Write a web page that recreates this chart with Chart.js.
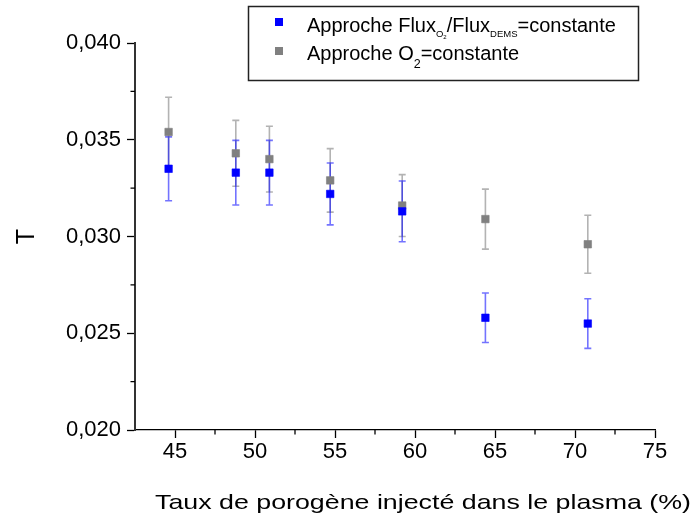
<!DOCTYPE html>
<html>
<head>
<meta charset="utf-8">
<script src="https://cdn.jsdelivr.net/npm/chart.js@4/dist/chart.umd.min.js"></script>
<style>
  html, body { margin: 0; padding: 0; background: #fff; }
  canvas { display: block; }
</style>
</head>
<body>
<canvas id="c" width="691" height="520"></canvas>
<script>
// ---- data ----
const xValues      = [44.6, 48.8, 50.9, 54.7, 59.2, 64.4, 70.8];
const fluxRatioT   = [0.0335, 0.0333, 0.0333, 0.0322, 0.0313, 0.0258, 0.0255];
const fluxRatioErr = [0.00165, 0.00167, 0.00167, 0.0016, 0.00157, 0.00128, 0.00128];
const o2ConstT     = [0.0354, 0.0343, 0.0340, 0.0329, 0.0316, 0.0309, 0.0296];
const o2ConstErr   = [0.0018, 0.0017, 0.0017, 0.00164, 0.0016, 0.00155, 0.0015];

const xTicks      = [45, 50, 55, 60, 65, 70, 75];
const xMinorTicks = [47.5, 52.5, 57.5, 62.5, 67.5, 72.5];
const yTicks      = [0.020, 0.025, 0.030, 0.035, 0.040];
const yMinorTicks = [0.0225, 0.0275, 0.0325, 0.0375];

const xTitle = 'Taux de porogène injecté dans le plasma (%)';
const yTitle = 'T';
// legend labels as rich-text parts: [text, kind] kind: n = normal, s = subscript, ss = sub-subscript
const legendFluxRatio = [['Approche Flux', 'n'], ['O', 's'], ['2', 'ss'], ['/Flux', 'n'], ['DEMS', 's'], ['=constante', 'n']];
const legendO2Const   = [['Approche O', 'n'], ['2', 's2'], ['=constante', 'n']];

const FONT = '"Liberation Sans", Arial, Helvetica, sans-serif';

const errorBarPlugin = {
  id: 'errorBars',
  beforeDatasetsDraw(chart) {
    const ctx = chart.ctx, xs = chart.scales.x, ys = chart.scales.y;
    for (let d = chart.data.datasets.length - 1; d >= 0; d--) {
      const ds = chart.data.datasets[d];
      ctx.save();
      ctx.strokeStyle = ds.errColor;
      ctx.lineWidth = 1.6;
      ds.data.forEach((p, i) => {
        const x = xs.getPixelForValue(p.x);
        const yTop = ys.getPixelForValue(p.y + ds.err[i]);
        const yBot = ys.getPixelForValue(p.y - ds.err[i]);
        ctx.beginPath();
        ctx.moveTo(x, yTop); ctx.lineTo(x, yBot);
        ctx.moveTo(x - 3.5, yTop); ctx.lineTo(x + 3.5, yTop);
        ctx.moveTo(x - 3.5, yBot); ctx.lineTo(x + 3.5, yBot);
        ctx.stroke();
      });
      ctx.restore();
    }
  }
};

const minorTickPlugin = {
  id: 'minorTicks',
  afterDraw(chart) {
    const ctx = chart.ctx, xs = chart.scales.x, ys = chart.scales.y;
    const ca = chart.chartArea;
    ctx.save();
    ctx.strokeStyle = '#000';
    ctx.lineWidth = 1.3;
    ctx.beginPath();
    xMinorTicks.forEach(v => {
      const x = xs.getPixelForValue(v);
      ctx.moveTo(x, ca.bottom); ctx.lineTo(x, ca.bottom + 4.5);
    });
    yMinorTicks.forEach(v => {
      const y = ys.getPixelForValue(v);
      ctx.moveTo(ca.left, y); ctx.lineTo(ca.left - 4.5, y);
    });
    ctx.stroke();
    ctx.restore();
  }
};

function drawRich(ctx, parts, x, y) {
  const sizes = { n: 20, s: 9.5, ss: 6, s2: 12.5 };
  const dys = { n: 0, s: 5.5, ss: 7.5, s2: 8.5 };
  parts.forEach(([t, k]) => {
    ctx.font = sizes[k] + 'px ' + FONT;
    ctx.fillText(t, x, y + dys[k]);
    x += ctx.measureText(t).width;
  });
}

const legendTitlePlugin = {
  id: 'legendTitles',
  afterDraw(chart) {
    const ctx = chart.ctx;
    ctx.save();
    // legend box
    ctx.strokeStyle = '#222';
    ctx.lineWidth = 1.5;
    ctx.strokeRect(248.5, 6.5, 390, 74);
    const ds = chart.data.datasets;
    ctx.fillStyle = ds[0].backgroundColor;
    ctx.fillRect(275, 18, 8, 8);
    ctx.fillStyle = ds[1].backgroundColor;
    ctx.fillRect(275, 47, 8, 8);
    ctx.fillStyle = '#000';
    ctx.textBaseline = 'alphabetic';
    ctx.textAlign = 'left';
    drawRich(ctx, legendFluxRatio, 307, 31.5);
    drawRich(ctx, legendO2Const, 307, 59.5);

    // x axis title (stretched horizontally as in the reference)
    ctx.font = '21px ' + FONT;
    const w = ctx.measureText(xTitle).width;
    ctx.save();
    ctx.translate(155, 509);
    ctx.scale(536 / w, 1);
    ctx.fillText(xTitle, 0, 0);
    ctx.restore();

    // y axis title
    ctx.save();
    ctx.font = '25px ' + FONT;
    ctx.translate(34, 236.5);
    ctx.rotate(-Math.PI / 2);
    ctx.textAlign = 'center';
    ctx.fillText(yTitle, 0, 0);
    ctx.restore();
    ctx.restore();
  }
};

new Chart(document.getElementById('c'), {
  type: 'scatter',
  data: {
    datasets: [
      {
        label: 'Approche FluxO2/FluxDEMS=constante',
        data: xValues.map((x, i) => ({ x: x, y: fluxRatioT[i] })),
        pointStyle: 'rect', pointRadius: 5.3, borderWidth: 0.6,
        backgroundColor: '#0000ff', borderColor: '#0000ff',
        err: fluxRatioErr, errColor: 'rgba(0,0,255,0.55)'
      },
      {
        label: 'Approche O2=constante',
        data: xValues.map((x, i) => ({ x: x, y: o2ConstT[i] })),
        pointStyle: 'rect', pointRadius: 5.3, borderWidth: 0.6,
        backgroundColor: '#808080', borderColor: '#808080',
        err: o2ConstErr, errColor: 'rgba(128,128,128,0.6)'
      }
    ]
  },
  options: {
    responsive: false,
    animation: false,
    devicePixelRatio: 1,
    layout: { padding: { left: 0, top: 43, right: 36, bottom: 0 } },
    plugins: { legend: { display: false }, tooltip: { enabled: false } },
    scales: {
      x: {
        type: 'linear', min: 42.5, max: 75,
        afterBuildTicks: s => { s.ticks = xTicks.map(v => ({ value: v })); },
        afterFit: s => { s.height = 90; },
        ticks: {
          autoSkip: false, maxRotation: 0, color: '#000', padding: 1,
          font: { size: 22, family: FONT },
          callback: v => String(v)
        },
        grid: { drawOnChartArea: false, drawTicks: true, tickLength: 8, tickColor: '#000', tickWidth: 1.3 },
        border: { display: true, color: '#000', width: 1.3 }
      },
      y: {
        type: 'linear', min: 0.020, max: 0.040,
        afterBuildTicks: s => { s.ticks = yTicks.map(v => ({ value: v })); },
        afterFit: s => { s.width = 135; },
        ticks: {
          autoSkip: false, color: '#000', padding: 6,
          font: { size: 22, family: FONT },
          callback: v => v.toFixed(3).replace('.', ',')
        },
        grid: { drawOnChartArea: false, drawTicks: true, tickLength: 8, tickColor: '#000', tickWidth: 1.3 },
        border: { display: true, color: '#333', width: 2 }
      }
    }
  },
  plugins: [errorBarPlugin, minorTickPlugin, legendTitlePlugin]
});
</script>
</body>
</html>
